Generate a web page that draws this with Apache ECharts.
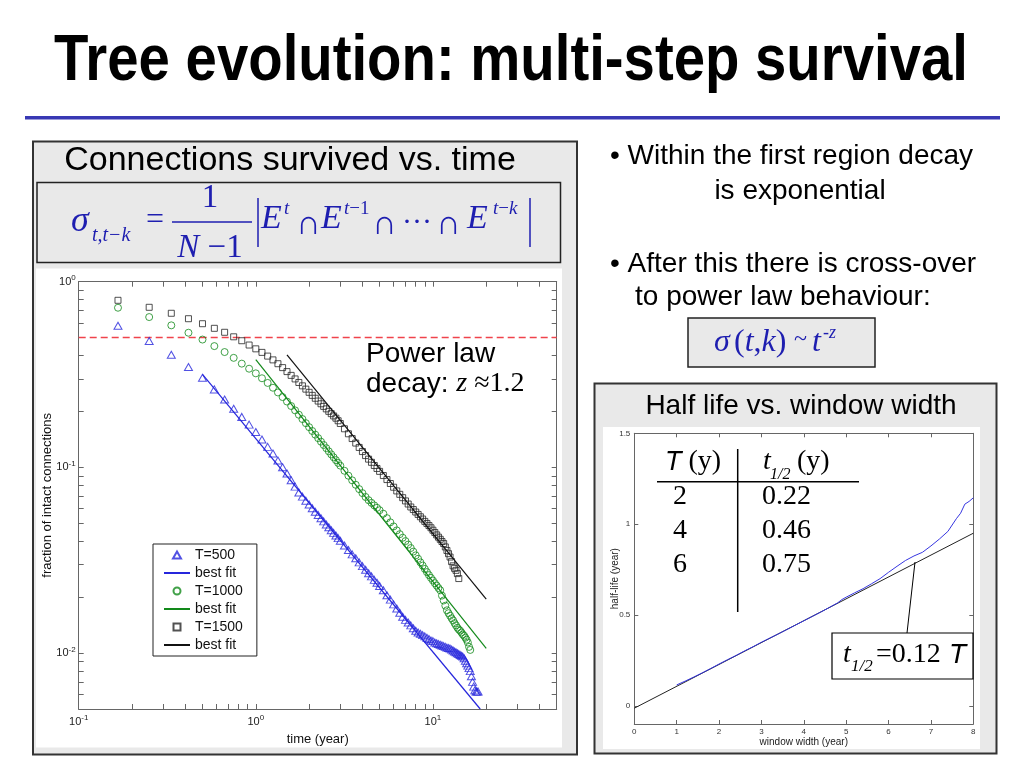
<!DOCTYPE html>
<html><head><meta charset="utf-8">
<script src="https://cdn.jsdelivr.net/npm/echarts@6/dist/echarts.min.js"></script>
<style>html,body{margin:0;padding:0;background:#fff}#c{width:1024px;height:768px}</style>
</head><body><div id="c"></div>
<script>
// ---------- data ----------
// sampling months of the survival curves (time = month/12 years)
const months = [2,3,4,5,6,7,8,9,10,11,12,13,14,15,16,17,18,19,20,21,22,23,24,25,26,27,28,29,30,31,32,33,34,35,36,
  38,40,42,44,46,48,50,52,54,56,58,60,
  63,66,69,72,75,78,81,84,87,90,93,96,99,102,105,108,111,114,117,120,123,126,129,132,135,138,141,144,147,150,153,156,159,162,165,168,171,174,177,180,183,186,189,192,195,198,201,204,207,210,213,216];
const survT500 = [0.579,0.479,0.404,0.347,0.304,0.263,0.232,0.207,0.187,0.170,0.155,0.1414,0.129,0.1188,0.109,0.1002,0.0927,0.0853,0.0788,0.0732,
  0.0696,0.0662,0.0631,0.0603,0.0577,0.0554,0.0532,0.0512,0.0493,0.0476,0.0459,0.0444,0.0430,0.0416,0.0403,
  0.0380,0.0359,0.0340,0.0324,0.0308,0.0294,0.0281,0.0269,0.0259,0.0248,0.0239,0.0230,
  0.0218,0.0205,0.0194,0.0183,0.0174,0.0165,0.0157,0.0151,0.0146,0.0141,0.0136,0.0132,0.0129,0.0127,0.0125,0.0123,0.0121,0.0119,0.0117,0.0116,
  0.0114,0.0113,0.0112,0.0111,0.0110,0.0109,0.0108,0.0107,0.01065,0.01057,0.01045,0.01033,0.01021,0.0101,0.00999,0.00988,0.00977,0.00967,0.00957,0.00938,
  0.00909,0.00882,0.00856,0.0083,0.0080,0.0075,0.0070,0.0066,0.0063,0.0062,0.0062,0.0062];
const survT1000 = [0.724,0.645,0.582,0.531,0.488,0.450,0.418,0.389,0.362,0.340,0.321,0.302,0.285,0.2685,0.2533,0.2392,0.2262,0.2141,0.2028,0.1922,
  0.1821,0.1730,0.1647,0.1571,0.1501,0.1437,0.1376,0.1320,0.1269,0.1220,0.1175,0.1133,0.1094,0.1057,0.1022,
  0.0959,0.0902,0.0852,0.0806,0.0764,0.0727,0.0693,0.0666,0.0644,0.0624,0.0606,0.0588,
  0.0563,0.0533,0.0506,0.0481,0.0458,0.0437,0.0418,0.0401,0.0384,0.0368,0.0352,0.0336,0.0322,0.0308,0.0296,0.0284,0.0273,0.0263,0.0254,0.0246,
  0.0238,0.0231,0.0224,0.0218,0.0204,0.0192,0.0180,0.0170,0.0164,0.0159,0.0154,0.0150,0.0145,0.0141,0.0137,0.0134,0.0132,0.0129,0.0126,0.0124,
  0.0121,0.0118,0.0114,0.0108,0.0104];
const survT1500 = [0.794,0.728,0.676,0.632,0.594,0.561,0.534,0.505,0.481,0.456,0.435,0.4163,0.3975,0.3793,0.3617,0.3446,0.3280,0.3130,0.2995,0.2866,
  0.2749,0.2639,0.2537,0.2443,0.2357,0.2276,0.2201,0.2131,0.2066,0.2004,0.1947,0.1893,0.1841,0.1783,0.1723,
  0.1614,0.1517,0.1430,0.1352,0.1281,0.1217,0.1158,0.1108,0.1065,0.1024,0.0987,0.0952,
  0.0904,0.0860,0.0819,0.0782,0.0747,0.0716,0.0687,0.0660,0.0635,0.0612,0.0593,0.0575,0.0558,0.0542,0.0527,0.0512,0.0499,0.0486,0.0473,0.0459,
  0.0446,0.0433,0.0421,0.0410,0.0399,0.0389,0.0373,0.0357,0.0343,0.0329,0.0311,0.0295,0.0286,0.0279,0.0268,0.0252];
// best-fit power-law lines (end points, years / fraction)
const fitT500X = [0.5, 18.5],  fitT500Y = [0.317, 0.005];
const fitT1000X = [1.0, 20],   fitT1000Y = [0.38, 0.0106];
const fitT1500X = [1.5, 20],   fitT1500Y = [0.404, 0.0195];
const halfLevelX = [0.1, 50], halfLevelY = [0.5, 0.5];
// half life vs window width
const windowW = [1.0,1.2,1.4,1.6,1.8,2.0,2.2,2.4,2.6,2.8,3.0,3.2,3.4,3.6,3.8,4.0,4.2,4.4,4.6,4.8,4.9,5.0,5.2,5.4,5.6,5.8,6.0,6.2,6.4,6.6,6.8,7.0,7.2,7.4,7.6,7.7,7.8,7.9,8.0];
const halfLife = [0.115,0.136,0.158,0.181,0.205,0.230,0.254,0.277,0.302,0.325,0.350,0.373,0.396,0.420,0.444,0.468,0.492,0.516,0.541,0.567,0.585,0.598,0.622,0.645,0.672,0.700,0.735,0.768,0.800,0.825,0.845,0.880,0.918,0.960,1.030,1.060,1.110,1.125,1.145];
const hlFitX = [0, 8], hlFitY = [-0.013, 0.95];
// tick values
const logTicksX = [0.1,0.2,0.3,0.4,0.5,0.6,0.7,0.8,0.9,1,2,3,4,5,6,7,8,9,10,20,30,40,50];
const logLabelsX = [0.1,1,10];
const logTicksY = [0.005,0.006,0.007,0.008,0.009,0.01,0.02,0.03,0.04,0.05,0.06,0.07,0.08,0.09,0.1,0.2,0.3,0.4,0.5,0.6,0.7,0.8,0.9,1];
const logLabelsY = [0.01,0.1,1];
const hlTicksY = [0,0.5,1,1.5];
const legendNames = ['T=500','best fit','T=1000','best fit\u200b','T=1500','best fit\u200b\u200b'];

// ---------- styling ----------
const SANS = '"Liberation Sans", Arial, Helvetica, sans-serif';
const SERIF = '"Liberation Serif", "Times New Roman", serif';
const FBLUE = '#1e1eb0';
const BLUE = '#2626dc', GREEN = '#12891a', BLACK = '#262626', RED = '#f0434c';

const pts = vals => vals.map((v, i) => [months[i] / 12, v]);
const pair = (xs, ys) => xs.map((x, i) => [x, ys[i]]);
const expLabel = v => { const e = Math.round(Math.log10(v)); return '{b|10}{s|' + e + '}'; };
const expRich = { b: { fontFamily: SANS, fontSize: 11, color: '#222' }, s: { fontFamily: SANS, fontSize: 8, color: '#222', padding: [0, 0, 7, 0] } };

function T(x, y, text, font, o) {
  o = o || {};
  const st = { text: text, font: font, fill: o.fill || '#000', align: o.align || 'left', textAlign: o.align || 'left', verticalAlign: 'middle', textVerticalAlign: 'middle' };
  if (o.rich) st.rich = o.rich;
  const el = { type: 'text', x: x, y: y, z: 100, silent: true, style: st };
  if (o.scaleX) el.scaleX = o.scaleX;
  return el;
}
function L(x1, y1, x2, y2, c, w) { return { type: 'line', z: 100, silent: true, shape: { x1, y1, x2, y2 }, style: { stroke: c, lineWidth: w } }; }
function R(x, y, w, h, fill, stroke, lw, z) { return { type: 'rect', z: z, silent: true, shape: { x, y, width: w, height: h }, style: { fill: fill, stroke: stroke || 'rgba(0,0,0,0)', lineWidth: lw || 0 } }; }

const f = (sz, it) => (it ? 'italic ' : '') + sz + 'px ' + SERIF;
const s = (sz, extra) => (extra ? extra + ' ' : '') + sz + 'px ' + SANS;
const blueRich = sz => ({ i: { font: f(sz, true), fill: FBLUE }, r: { font: f(sz), fill: FBLUE } });

const graphics = [
  // slide frame pieces
  R(25, 116, 975, 3.5, '#3838b4', null, 0, -10),
  R(33, 141.5, 544, 613, '#e9e9e9', '#333', 2, -10),
  R(36, 268.5, 526, 479, '#ffffff', null, 0, -9),
  R(37, 182.5, 523.5, 80, '#e9e9e9', '#222', 1.5, -8),
  R(594.5, 383.5, 402, 370, '#e9e9e9', '#333', 2, -10),
  R(603, 427, 377, 322, '#ffffff', null, 0, -9),
  R(688, 318, 187, 49, '#e9e9e9', '#222', 1.5, -8),
  // title
  T(511, 62, 'Tree evolution: multi-step survival', 'bold 64px ' + SANS, { align: 'center', scaleX: 0.88 }),
  // left panel heading
  T(290, 161, 'Connections survived vs. time', s(34), { align: 'center' }),
  // formula sigma_{t,t-k}
  T(71, 222, 'σ', f(36, true), { fill: FBLUE }),
  T(92, 236, 't,t−k', f(20, true), { fill: FBLUE }),
  T(155, 221, '=', f(32), { fill: FBLUE, align: 'center' }),
  T(210, 198, '1', f(33), { fill: FBLUE, align: 'center' }),
  L(172, 222, 252, 222, FBLUE, 1.5),
  T(210, 248, '{i|N}{r| −1}', f(33), { fill: FBLUE, align: 'center', rich: blueRich(33) }),
  L(258, 198, 258, 247, FBLUE, 1.5),
  T(261, 219, 'E', f(34, true), { fill: FBLUE }),
  T(284, 209, 't', f(19, true), { fill: FBLUE }),
  T(296, 225, '∩', f(34), { fill: FBLUE }),
  T(321, 219, 'E', f(34, true), { fill: FBLUE }),
  T(344, 209, '{i|t}{r|−1}', f(19), { fill: FBLUE, rich: blueRich(19) }),
  T(372, 225, '∩', f(34), { fill: FBLUE }),
  T(417, 223, '···', f(30), { fill: FBLUE, align: 'center' }),
  T(436, 225, '∩', f(34), { fill: FBLUE }),
  T(467, 219, 'E', f(34, true), { fill: FBLUE }),
  T(493, 209, '{i|t}{r|−}{i|k}', f(19), { fill: FBLUE, rich: blueRich(19) }),
  L(530, 198, 530, 247, FBLUE, 1.5),
  // power law annotation
  T(366, 354, 'Power law', s(28)),
  T(366, 384, '{a|decay: }{z|z}{b| ≈1.2}', s(28), { rich: { a: { font: s(28) }, z: { font: f(28, true) }, b: { font: f(28) } } }),
  // bullets
  T(610, 156, '• Within the first region decay', s(28)),
  T(800, 191, 'is exponential', s(28), { align: 'center' }),
  T(610, 264, '• After this there is cross-over', s(28)),
  T(635, 297, 'to power law behaviour:', s(28)),
  T(714, 343, 'σ', f(32, true), { fill: FBLUE }),
  T(734, 343, '{r|(}{i|t}{r|,}{i|k}{r|)}', f(32), { fill: FBLUE, rich: blueRich(32) }),
  T(794, 340, '~', f(24), { fill: FBLUE }),
  T(812, 343, 't', f(32, true), { fill: FBLUE }),
  T(823, 333, '-z', f(18, true), { fill: FBLUE }),
  // half-life panel
  T(801, 406, 'Half life vs. window width', s(28), { align: 'center' }),
  T(665, 462, '{a|T}{b| (y)}', f(28), { rich: { a: { font: s(27, 'italic') }, b: { font: f(28) } } }),
  T(763, 462, 't', f(28, true)),
  T(770, 475, '1/2', f(16, true)),
  T(797, 462, '(y)', f(28)),
  L(657, 481.7, 859, 481.7, '#000', 1.5),
  L(737.7, 449, 737.7, 612, '#000', 1.5),
  T(680, 497, '2', f(28), { align: 'center' }), T(762, 497, '0.22', f(28)),
  T(680, 531, '4', f(28), { align: 'center' }), T(762, 531, '0.46', f(28)),
  T(680, 565, '6', f(28), { align: 'center' }), T(762, 565, '0.75', f(28)),
  R(832, 633, 141, 46, '#ffffff', '#000', 1.2, 99),
  T(843, 655, 't', f(28, true)),
  T(851, 667, '1/2', f(17, true)),
  T(876, 655, '=0.12', f(28)),
  T(949, 655, 'T', s(28, 'italic')),
  L(907, 633, 915, 562, '#000', 1)
];

const logAxisX = (pos, show) => ({
  type: 'log', logBase: 10, gridIndex: 0, min: 0.1, max: 50, position: pos,
  axisLine: { show: true, onZero: false, lineStyle: { color: '#666', width: 1 } },
  axisTick: { show: true, inside: true, length: 5, customValues: logTicksX, lineStyle: { color: '#666' } },
  axisLabel: show ? { customValues: logLabelsX, formatter: expLabel, rich: expRich, margin: 5 } : { show: false },
  splitLine: { show: false },
  name: show ? 'time (year)' : '', nameLocation: 'middle', nameGap: 24, nameMoveOverlap: false,
  nameTextStyle: { fontFamily: SANS, fontSize: 13, color: '#111' }
});
const logAxisY = (pos, show) => ({
  type: 'log', logBase: 10, gridIndex: 0, min: 0.005, max: 1, position: pos,
  axisLine: { show: true, onZero: false, lineStyle: { color: '#666', width: 1 } },
  axisTick: { show: true, inside: true, length: 5, customValues: logTicksY, lineStyle: { color: '#666' } },
  axisLabel: show ? { customValues: logLabelsY, formatter: expLabel, rich: expRich, margin: 3 } : { show: false },
  splitLine: { show: false },
  name: show ? 'fraction of intact connections' : '', nameLocation: 'middle', nameGap: 25, nameMoveOverlap: false,
  nameTextStyle: { fontFamily: SANS, fontSize: 13, color: '#111' }
});
const hlAxisX = (pos, show) => ({
  type: 'value', gridIndex: 1, min: 0, max: 8, interval: 1, position: pos,
  axisLine: { show: true, onZero: false, lineStyle: { color: '#666', width: 1 } },
  axisTick: { show: true, inside: true, length: 4, lineStyle: { color: '#666' } },
  axisLabel: show ? { fontFamily: SANS, fontSize: 8, color: '#333', margin: 4 } : { show: false },
  splitLine: { show: false },
  name: show ? 'window width (year)' : '', nameLocation: 'middle', nameGap: 13, nameMoveOverlap: false,
  nameTextStyle: { fontFamily: SANS, fontSize: 10, color: '#222' }
});
const hlAxisY = (pos, show) => ({
  type: 'value', gridIndex: 1, min: -0.1, max: 1.5, position: pos,
  axisLine: { show: true, onZero: false, lineStyle: { color: '#666', width: 1 } },
  axisTick: { show: true, inside: true, length: 4, customValues: hlTicksY, lineStyle: { color: '#666' } },
  axisLabel: show ? { customValues: hlTicksY, fontFamily: SANS, fontSize: 8, color: '#333', margin: 4 } : { show: false },
  splitLine: { show: false },
  name: show ? 'half-life (year)' : '', nameLocation: 'middle', nameGap: 14, nameMoveOverlap: false,
  nameTextStyle: { fontFamily: SANS, fontSize: 10, color: '#222' }
});

const marker = (name, sym, size, color, vals) => ({
  name: name, type: 'scatter', xAxisIndex: 0, yAxisIndex: 0, symbol: sym, symbolSize: size,
  itemStyle: { color: 'rgba(0,0,0,0)', borderColor: color, borderWidth: 1 }, data: pts(vals), z: 3, silent: true
});
const fit = (name, color, xs, ys) => ({
  name: name, type: 'line', xAxisIndex: 0, yAxisIndex: 0, symbol: 'none', data: pair(xs, ys),
  lineStyle: { color: color, width: 1.2 }, itemStyle: { color: color }, z: 4, silent: true
});

const hideSym = { opacity: 0 };
const option = {
  animation: false,
  backgroundColor: '#ffffff',
  graphic: { elements: graphics },
  grid: [
    { left: 78.7, top: 281.7, width: 478, height: 427.3, outerBoundsMode: 'none', containLabel: false },
    { left: 634.3, top: 433.3, width: 339, height: 290.7, outerBoundsMode: 'none', containLabel: false }
  ],
  legend: {
    data: [
      { name: legendNames[0], icon: 'path://M4,0L8,7L0,7Z' },
      { name: legendNames[1], itemStyle: hideSym },
      { name: legendNames[2], icon: 'circle' },
      { name: legendNames[3], itemStyle: hideSym },
      { name: legendNames[4], icon: 'path://M0,0L6,0L6,6L0,6Z' },
      { name: legendNames[5], itemStyle: hideSym }
    ],
    orient: 'vertical', left: 153, top: 544, symbolKeepAspect: true,
    itemWidth: 26, itemHeight: 7, itemGap: 4, itemTextGap: 8,
    padding: [4, 14, 4, 10], backgroundColor: '#fff', borderColor: '#222', borderWidth: 1, borderRadius: 0,
    textStyle: { fontFamily: SANS, fontSize: 14, color: '#111', lineHeight: 14 },
    formatter: n => n.replace(/\u200b/g, ''), selectedMode: false
  },
  xAxis: [logAxisX('bottom', true), logAxisX('top', false), hlAxisX('bottom', true), hlAxisX('top', false)],
  yAxis: [logAxisY('left', true), logAxisY('right', false), hlAxisY('left', true), hlAxisY('right', false)],
  series: [
    marker('T=500', 'triangle', [8, 7], BLUE, survT500),
    fit(legendNames[1], BLUE, fitT500X, fitT500Y),
    marker('T=1000', 'circle', 7, GREEN, survT1000),
    fit(legendNames[3], GREEN, fitT1000X, fitT1000Y),
    marker('T=1500', 'rect', 6, BLACK, survT1500),
    fit(legendNames[5], '#111', fitT1500X, fitT1500Y),
    { type: 'line', xAxisIndex: 0, yAxisIndex: 0, symbol: 'none', data: pair(halfLevelX, halfLevelY),
      lineStyle: { color: RED, width: 1.5, type: [7, 4] }, z: 2, silent: true },
    { type: 'line', xAxisIndex: 2, yAxisIndex: 2, symbol: 'none', data: pair(windowW, halfLife),
      lineStyle: { color: '#3636e0', width: 1 }, z: 3, silent: true },
    { type: 'line', xAxisIndex: 2, yAxisIndex: 2, symbol: 'none', data: pair(hlFitX, hlFitY),
      lineStyle: { color: '#222', width: 1 }, z: 2, silent: true }
  ]
};
const chart = echarts.init(document.getElementById('c'), null, { renderer: 'canvas' });
chart.setOption(option);
</script>
</body></html>
